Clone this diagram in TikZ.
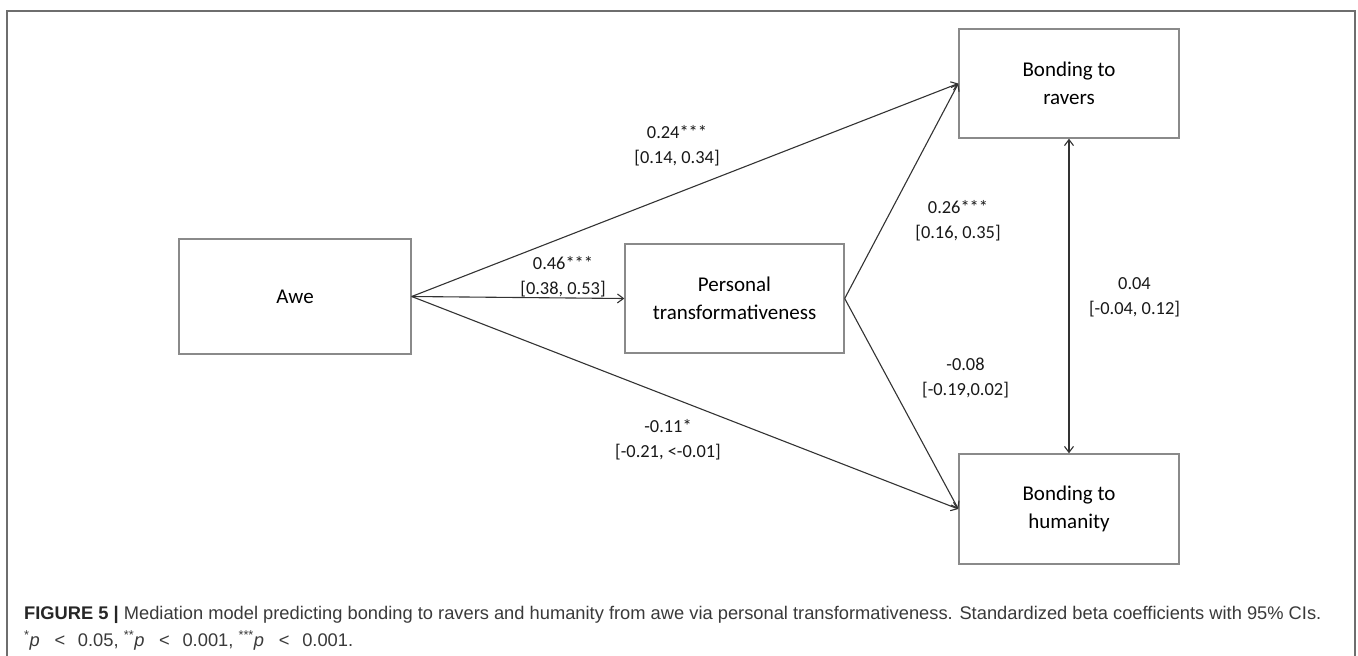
\documentclass[tikz,border=0pt]{standalone}
\usepackage{fontspec}
\setmainfont{Carlito}
\newfontfamily\capfont{Liberation Sans}
\usetikzlibrary{arrows.meta}
\definecolor{boxgray}{HTML}{8A8A8A}
\definecolor{linegray}{HTML}{333333}
\definecolor{framegray}{HTML}{6E6E6E}
\definecolor{captext}{HTML}{3A3A3A}
\newcommand{\lessgap}{\hspace{0.8em}<\hspace{0.7em}}
\begin{document}
\begin{tikzpicture}[x=1pt,y=-1pt,
  varbox/.style={draw=boxgray, line width=1.4pt, inner sep=0pt, align=center,
    font=\fontsize{21}{28}\selectfont, text=black},
  lbl/.style={align=center, inner sep=0pt, font=\fontsize{18.4}{25}\selectfont, text=black!90},
  conn/.style={draw=linegray, line width=1.1pt, -{Straight Barb[length=6pt,width=9pt]}},
  bidir/.style={draw=linegray, line width=1.1pt, {Straight Barb[length=6pt,width=9pt]}-{Straight Barb[length=6pt,width=9pt]}},
  captionline/.style={anchor=base west, inner sep=0pt, font=\capfont\fontsize{18.3}{27}\selectfont, text=captext}]
\useasboundingbox (0,0) rectangle (1358,656);
\fill[white] (0,0) rectangle (1358,656);
% outer frame
\draw[framegray, line width=1.2pt] (7,656) -- (7,11) -- (1355,11) -- (1355,656);
% boxes
\node[varbox, minimum width=232pt, minimum height=115pt] (awe) at (295,296.5) {Awe};
\node[varbox, minimum width=219pt, minimum height=109pt] (pt) at (734.5,298.5) {Personal\\transformativeness};
\node[varbox, minimum width=220pt, minimum height=109pt] (rav) at (1069,83.5) {Bonding to\\ravers};
\node[varbox, minimum width=220pt, minimum height=110pt] (hum) at (1069,509) {Bonding to\\humanity};
% connectors
\draw[conn] (awe.east) -- (rav.west);
\draw[conn] (awe.east) -- (pt.west);
\draw[conn] (awe.east) -- (hum.west);
\draw[conn] (pt.east) -- (rav.west);
\draw[conn] (pt.east) -- (hum.west);
\draw[bidir] (rav.south) -- (hum.north);
% labels
\node[lbl] (l1) at (677,145.5) {0.24***\\{[0.14, 0.34]}};
\node[lbl] (l2) at (563,276.5) {0.46***\\{[0.38, 0.53]}};
\node[lbl] (l3) at (958,220.5) {0.26***\\{[0.16, 0.35]}};
\node[lbl] (l4) at (1134.5,297.5) {0.04\\{[-0.04, 0.12]}};
\node[lbl] (l5) at (965.5,378) {-0.08\\{[-0.19,0.02]}};
\node[lbl] (l6) at (668,440) {-0.11*\\{[-0.21, <-0.01]}};
% caption
\node[captionline] (c1) at (24,619) {\textbf{\color{black!85}FIGURE 5 |} Mediation model predicting bonding to ravers and humanity from awe via personal transformativeness. Standardized beta coefficients with 95\% CIs.};
\node[captionline] (c2) at (24,646) {\textsuperscript{*}\textit{p}\lessgap0.05, \textsuperscript{**}\textit{p}\lessgap0.001, \textsuperscript{***}\textit{p}\lessgap0.001.};
\end{tikzpicture}
\end{document}
